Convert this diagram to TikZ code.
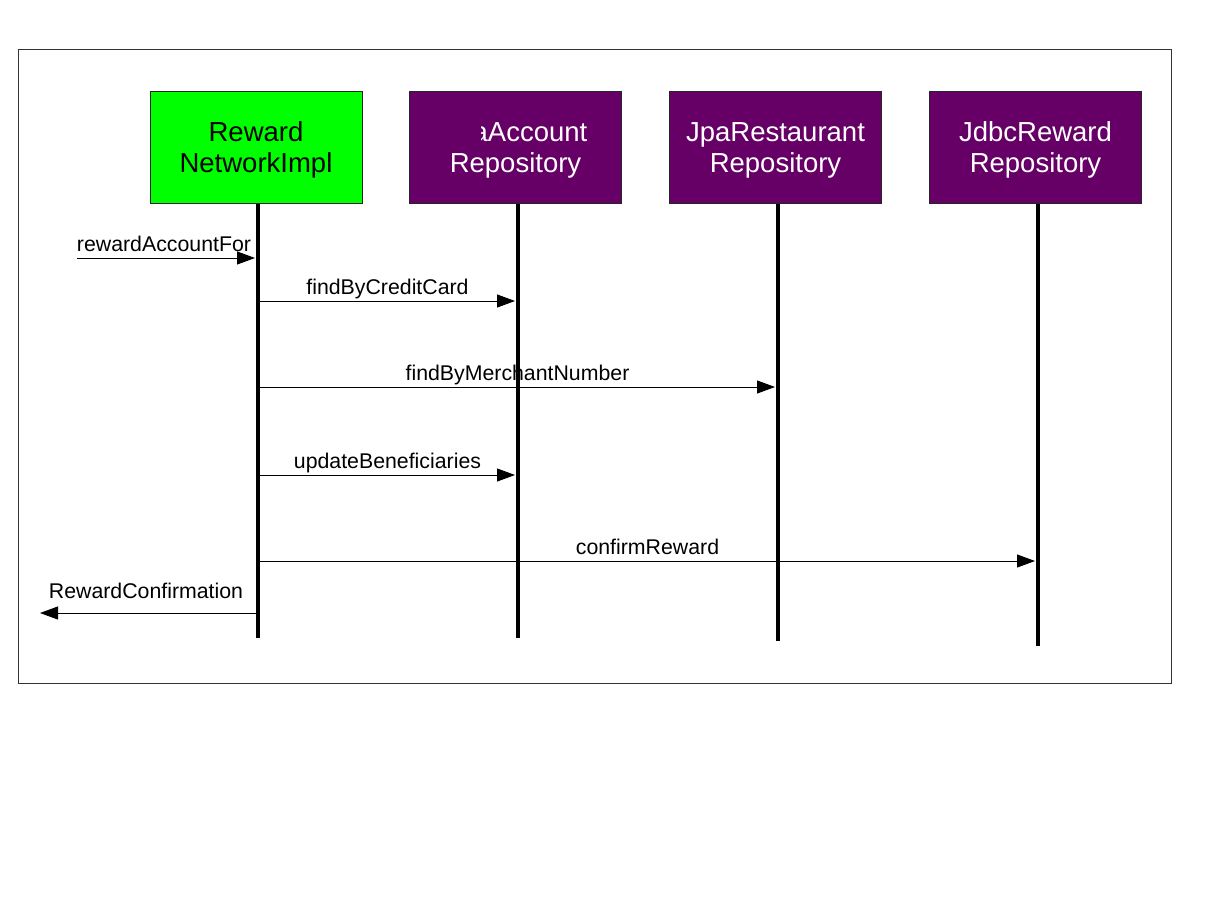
\documentclass[tikz,border=0pt]{standalone}
\usepackage{fontspec}
\setmainfont{Liberation Sans}
\usetikzlibrary{arrows.meta}
\definecolor{objgreen}{HTML}{00FF00}
\definecolor{objpurple}{HTML}{660066}
\begin{document}
\begin{tikzpicture}[x=1pt,y=-1pt,
 obj/.style={draw=black!85, line width=0.8pt, minimum width=212pt, minimum height=112pt, inner sep=0pt},
 repo/.style={obj, fill=objpurple},
 objtext/.style={align=center, font=\fontsize{27.5}{31}\selectfont, inner sep=0pt, yshift=-3pt},
 life/.style={line width=4pt},
 msg/.style={line width=0.9pt, -{Triangle[length=18pt,width=13pt]}},
 lbl/.style={font=\fontsize{21.3}{24}\selectfont, anchor=base, inner sep=0pt, yshift=7pt},
 frame/.style={draw=black!80, line width=0.8pt}]
\useasboundingbox (0,0) rectangle (1213,910);
\draw[frame] (18,49) rectangle (1171,683);
% objects
\node[obj, fill=objgreen] (rni) at (256,147) {};
\node[objtext, text=black] (rniT) at (rni.center) {Reward\\NetworkImpl};
\node[repo] (jar) at (515.5,147) {};
\node[objtext, text=white] (jarT) at (jar.center) {JpaAccount\\Repository};
\fill[objpurple] (441,110) rectangle (481,150);
\node[repo] (jrr) at (775.5,147) {};
\node[objtext, text=white] (jrrT) at (jrr.center) {JpaRestaurant\\Repository};
\node[repo] (jdr) at (1035.5,147) {};
\node[objtext, text=white] (jdrT) at (jdr.center) {JdbcReward\\Repository};
% lifeline ends
\coordinate (t1) at (258,204); \coordinate (e1) at (258,638);
\coordinate (t2) at (518,204); \coordinate (e2) at (518,638);
\coordinate (t3) at (778,204); \coordinate (e3) at (778,641);
\coordinate (t4) at (1038,204); \coordinate (e4) at (1038,646);
\draw[life] (t1) -- (e1);
\draw[life] (t2) -- (e2);
\draw[life] (t3) -- (e3);
\draw[life] (t4) -- (e4);
% message points
\coordinate (in) at (77,258); \coordinate (m1) at (255,258);
\coordinate (a2) at (260,301); \coordinate (b2) at (515,301);
\coordinate (a3) at (260,387); \coordinate (b3) at (775,387);
\coordinate (a4) at (260,475); \coordinate (b4) at (515,475);
\coordinate (a5) at (260,561); \coordinate (b5) at (1035,561);
\coordinate (a6) at (256,613); \coordinate (out) at (40,613);
\draw[msg] (in) -- node[lbl, xshift=-2pt]{rewardAccountFor} (m1);
\draw[msg] (a2) -- node[lbl]{findByCreditCard} (b2);
\draw[msg] (a3) -- node[lbl]{findByMerchantNumber} (b3);
\draw[msg] (a4) -- node[lbl]{updateBeneficiaries} (b4);
\draw[msg] (a5) -- node[lbl]{confirmReward} (b5);
\draw[msg] (a6) -- node[lbl, yshift=8pt, xshift=-2pt]{RewardConfirmation} (out);
\end{tikzpicture}
\end{document}
